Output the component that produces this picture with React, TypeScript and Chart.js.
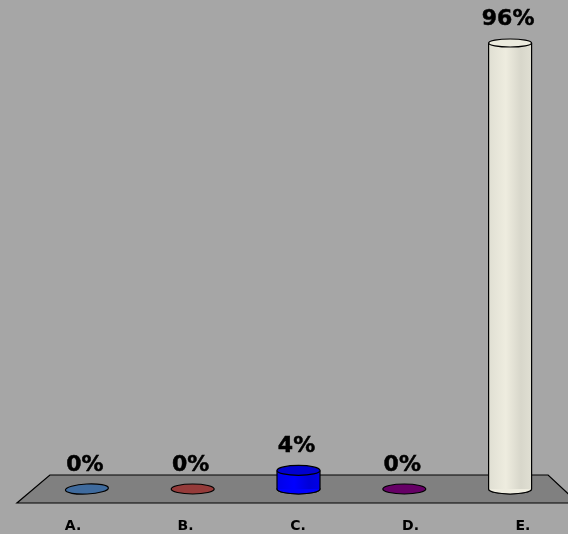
import React, { useEffect, useRef } from "react";
import { Chart, registerables } from "chart.js";

Chart.register(...registerables);

const categories = ["A.", "B.", "C.", "D.", "E."];
const percentages = [0, 0, 4, 0, 96];
const sideColors = ["#3f6b9e", "#953b3a", "#0000f5", "#660066", "#e6e5d9"];
const capColors = ["#3f6b9e", "#953b3a", "#0000d0", "#660066", "#ecebde"];
const stripeColors = [
  ["#3f6b9e", "#3f6b9e", "#3f6b9e"],
  ["#953b3a", "#953b3a", "#953b3a"],
  ["#0000e8", "#0000ff", "#0000d8"],
  ["#660066", "#660066", "#660066"],
  ["#e0dfd3", "#eeecdf", "#d8d7cb"],
];
const FONT = '"DejaVu Sans", Verdana, sans-serif';

const cylinderPlugin = {
  id: "cylinder",
  beforeDatasetsDraw(chart: any) {
    const { ctx, scales } = chart;
    const y0 = scales.y.getPixelForValue(0);
    const first = scales.x.getPixelForValue(0);
    const last = scales.x.getPixelForValue(4);
    ctx.save();
    ctx.fillStyle = "#808080";
    ctx.strokeStyle = "#000";
    ctx.lineWidth = 1.2;
    ctx.beginPath();
    ctx.moveTo(first - 37, y0 - 14);
    ctx.lineTo(last + 38, y0 - 14);
    ctx.lineTo(last + 68, y0 + 14);
    ctx.lineTo(first - 70, y0 + 14);
    ctx.closePath();
    ctx.fill();
    ctx.stroke();
    const meta = chart.getDatasetMeta(0);
    meta.data.forEach((bar: any, i: number) => {
      ctx.beginPath();
      ctx.ellipse(bar.x, y0, 21.5, 5, i === 0 ? -0.05 : 0, 0, Math.PI * 2);
      ctx.fillStyle = sideColors[i];
      ctx.fill();
      ctx.stroke();
    });
    ctx.restore();
  },
  afterDatasetsDraw(chart: any) {
    const { ctx, scales } = chart;
    const y0 = scales.y.getPixelForValue(0);
    const meta = chart.getDatasetMeta(0);
    ctx.save();
    meta.data.forEach((bar: any, i: number) => {
      const top = bar.y;
      const tall = percentages[i] > 0;
      ctx.strokeStyle = "#000";
      ctx.lineWidth = 1.2;
      if (tall) {
        ctx.beginPath();
        ctx.moveTo(bar.x - 21.5, top);
        ctx.lineTo(bar.x - 21.5, y0);
        ctx.moveTo(bar.x + 21.5, y0);
        ctx.lineTo(bar.x + 21.5, top);
        ctx.stroke();
        ctx.beginPath();
        ctx.ellipse(bar.x, y0, 21.5, 5, 0, 0, Math.PI);
        ctx.fillStyle = stripeColors[i][1];
        ctx.fill();
        ctx.stroke();
        ctx.beginPath();
        ctx.ellipse(bar.x, top, 21.5, percentages[i] > 50 ? 4 : 5, 0, 0, Math.PI * 2);
        ctx.fillStyle = capColors[i];
        ctx.fill();
        ctx.stroke();
      }
      ctx.fillStyle = "#000";
      ctx.font = `bold 22px ${FONT}`;
      ctx.textAlign = "center";
      ctx.textBaseline = "alphabetic";
      ctx.lineWidth = 0.5;
      const label = `${percentages[i]}%`;
      ctx.fillText(label, bar.x - 2, top - 18);
      ctx.strokeText(label, bar.x - 2, top - 18);
    });
    ctx.restore();
  },
};

export default function App() {
  const ref = useRef<HTMLCanvasElement>(null);
  useEffect(() => {
    document.body.style.margin = "0";
    document.body.style.background = "#a6a6a6";
    const chart = new Chart(ref.current!, {
      type: "bar",
      data: {
        labels: categories,
        datasets: [
          {
            data: percentages,
            barPercentage: 0.407,
            categoryPercentage: 1,
            borderWidth: 0,
            backgroundColor: (c: any) => {
              const i = c.dataIndex;
              const [a, b, d] = stripeColors[i] ?? stripeColors[0];
              const x = c.chart.scales.x?.getPixelForValue(i);
              if (!Number.isFinite(x)) return a;
              const g = c.chart.ctx.createLinearGradient(x - 21.5, 0, x + 21.5, 0);
              g.addColorStop(0, a);
              g.addColorStop(0.4, b);
              g.addColorStop(0.75, d);
              g.addColorStop(1, a);
              return g;
            },
          },
        ],
      },
      options: {
        animation: false,
        responsive: false,
        devicePixelRatio: 1,
        layout: { padding: { left: 34, right: 5, top: 0, bottom: 0 } },
        plugins: { legend: { display: false }, tooltip: { enabled: false } },
        scales: {
          y: { display: false, min: 0, max: 105.25 },
          x: { display: false, type: "category", offset: true },
          x2: {
            type: "linear",
            position: "bottom",
            offset: false,
            min: -0.3467,
            max: 4.3556,
            border: { display: false },
            grid: { display: false, drawTicks: false, offset: false },
            afterBuildTicks: (axis: any) => {
              axis.ticks = categories.map((_, i) => ({ value: i }));
            },
            afterFit: (axis: any) => {
              axis.height = 45;
            },
            ticks: {
              autoSkip: false,
              maxRotation: 0,
              padding: 29,
              color: "#000",
              font: { family: FONT, size: 14, weight: "bold" },
              callback: (v: any) => categories[Number(v)],
            },
          },
        },
      },
      plugins: [cylinderPlugin],
    } as any);
    return () => chart.destroy();
  }, []);
  return <canvas ref={ref} width={568} height={534} style={{ display: "block", background: "#a6a6a6" }} />;
}
